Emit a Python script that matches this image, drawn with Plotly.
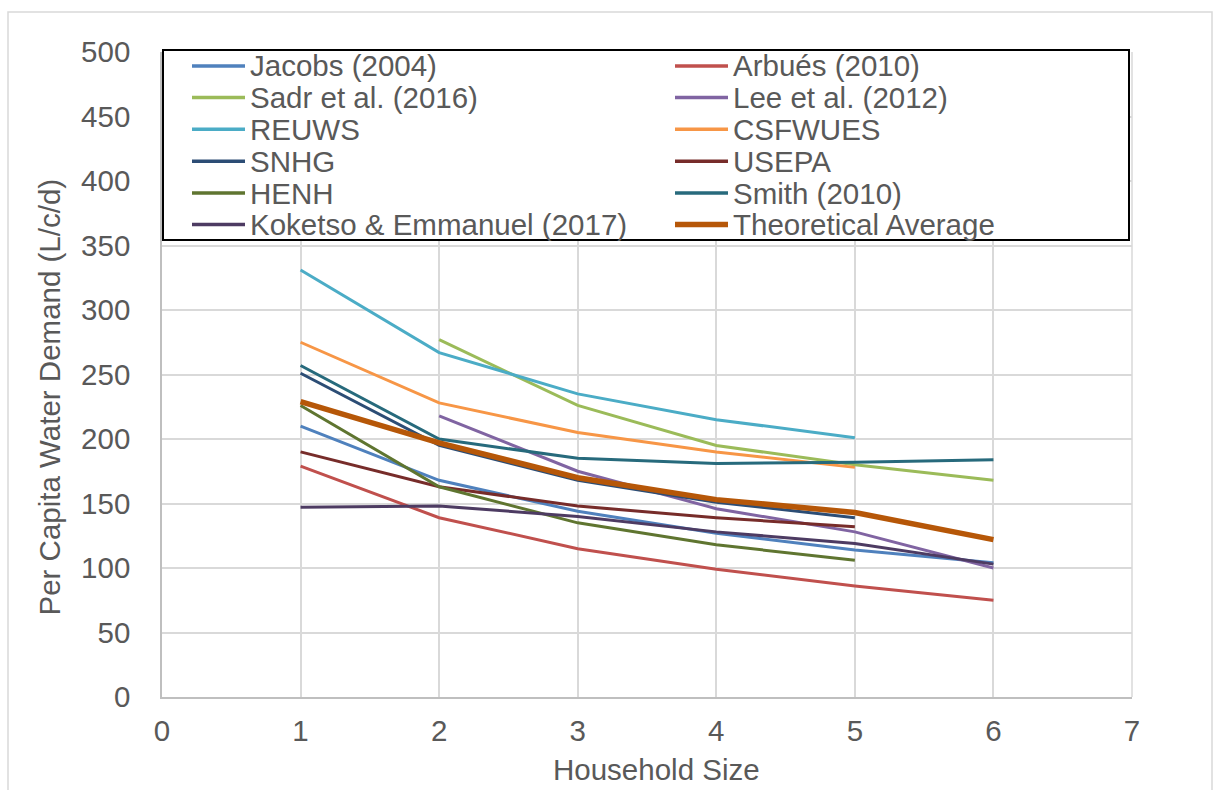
import plotly.graph_objects as go

# ---- data ----
household_size = [1, 2, 3, 4, 5, 6]
series_names = [
    "Jacobs (2004)", "Arbués (2010)", "Sadr et al. (2016)", "Lee et al. (2012)",
    "REUWS", "CSFWUES", "SNHG", "USEPA", "HENH", "Smith (2010)",
    "Koketso & Emmanuel (2017)", "Theoretical Average",
]
jacobs = [210, 168, 144, 127, 114, 104]
arbues = [179, 139, 115, 99, 86, 75]
sadr = [None, 277, 226, 195, 180, 168]
lee = [None, 218, 175, 146, 128, 100]
reuws = [331, 267, 235, 215, 201, None]
csfwues = [275, 228, 205, 190, 178, None]
snhg = [251, 195, 168, 151, 139, None]
usepa = [190, 163, 148, 139, 132, None]
henh = [226, 163, 135, 118, 106, None]
smith = [257, 200, 185, 181, 182, 184]
koketso = [147, 148, 140, 128, 119, 103]
theoretical_avg = [229, 197, 170, 153, 143, 122]

series_values = [jacobs, arbues, sadr, lee, reuws, csfwues, snhg, usepa,
                 henh, smith, koketso, theoretical_avg]
colors = ["#4F81BD", "#C0504D", "#9BBB59", "#8064A2", "#4BACC6", "#F79646",
          "#2C4D75", "#772C2A", "#5F7530", "#276A7C", "#4D3B62", "#B65708"]
widths = [3] * 11 + [5.5]

x_ticks = [0, 1, 2, 3, 4, 5, 6, 7]
y_ticks = [0, 50, 100, 150, 200, 250, 300, 350, 400, 450, 500]
x_title = "Household Size"
y_title = "Per Capita Water Demand (L/c/d)"

# ---- layout geometry (pixels) ----
W, H = 1216, 790
PL, PR, PT, PB = 162, 1132, 52, 697
pw, ph = PR - PL, PB - PT


def px(xp):
    return (xp - PL) / pw


def py(yp):
    return (PB - yp) / ph


FONT = "Liberation Sans, Arial, sans-serif"
TXT = "#595959"
FS = 29.5

fig = go.Figure()
for name, vals, col, w in zip(series_names, series_values, colors, widths):
    fig.add_trace(go.Scatter(
        x=household_size, y=vals, name=name, mode="lines",
        line=dict(color=col, width=w), showlegend=False,
    ))

shapes = []
# outer chart frame
shapes.append(dict(type="rect", xref="paper", yref="paper",
                   x0=px(8), x1=px(1212), y0=py(800), y1=py(12),
                   line=dict(color="#D9D9D9", width=1.5), fillcolor="rgba(0,0,0,0)",
                   layer="below"))
# right border of plot area
shapes.append(dict(type="line", xref="paper", yref="paper", x0=1, x1=1, y0=0, y1=1,
                   line=dict(color="#D9D9D9", width=1.5), layer="below"))
# legend box
shapes.append(dict(type="rect", xref="paper", yref="paper",
                   x0=px(163), x1=px(1129), y0=py(240), y1=py(50),
                   line=dict(color="black", width=2), fillcolor="white",
                   layer="above"))

annotations = []
row_y = [66, 97.5, 129.3, 161.3, 193, 224.5]
col_line_x = [(192, 245), (675, 728)]
col_text_x = [248, 731]
for i, (name, col, w) in enumerate(zip(series_names, colors, widths)):
    r, c = divmod(i, 2)
    yy = py(row_y[r])
    shapes.append(dict(type="line", xref="paper", yref="paper",
                       x0=px(col_line_x[c][0]), x1=px(col_line_x[c][1]),
                       y0=yy, y1=yy, line=dict(color=col, width=3.5 if w < 4 else 5.5),
                       layer="above"))
    annotations.append(dict(text=name, xref="paper", yref="paper",
                            x=px(col_text_x[c]), y=yy, xanchor="left", yanchor="middle",
                            showarrow=False, font=dict(family=FONT, size=FS, color=TXT)))

# axis titles
annotations.append(dict(text=x_title, xref="paper", yref="paper",
                        x=px(656.5), y=py(769), xanchor="center", yanchor="middle",
                        showarrow=False, font=dict(family=FONT, size=FS, color=TXT)))
annotations.append(dict(text=y_title, xref="paper", yref="paper", textangle=-90,
                        x=px(49), y=py(397.5), xanchor="center", yanchor="middle",
                        showarrow=False, font=dict(family=FONT, size=FS, color=TXT)))

fig.update_layout(
    width=W, height=H,
    margin=dict(l=PL, r=W - PR, t=PT, b=H - PB, autoexpand=False),
    paper_bgcolor="white", plot_bgcolor="white",
    font=dict(family=FONT, size=FS, color=TXT),
    shapes=shapes, annotations=annotations, showlegend=False,
)
fig.update_xaxes(
    range=[0, 7], tickmode="array", tickvals=x_ticks, ticktext=[str(v) for v in x_ticks],
    showgrid=True, gridcolor="#D9D9D9", gridwidth=1.5,
    showline=True, linecolor="#BFBFBF", linewidth=1.5, mirror=False,
    zeroline=False, ticks="", ticklabelstandoff=7,
    tickfont=dict(family=FONT, size=FS, color=TXT),
    automargin=False,
)
fig.update_yaxes(
    range=[0, 500], tickmode="array", tickvals=y_ticks, ticktext=[str(v) for v in y_ticks],
    showgrid=True, gridcolor="#D9D9D9", gridwidth=1.5,
    showline=True, linecolor="#BFBFBF", linewidth=1.5,
    zeroline=False, ticks="", ticklabelstandoff=24,
    tickfont=dict(family=FONT, size=FS, color=TXT),
    automargin=False,
)

fig.write_html("out.html")
